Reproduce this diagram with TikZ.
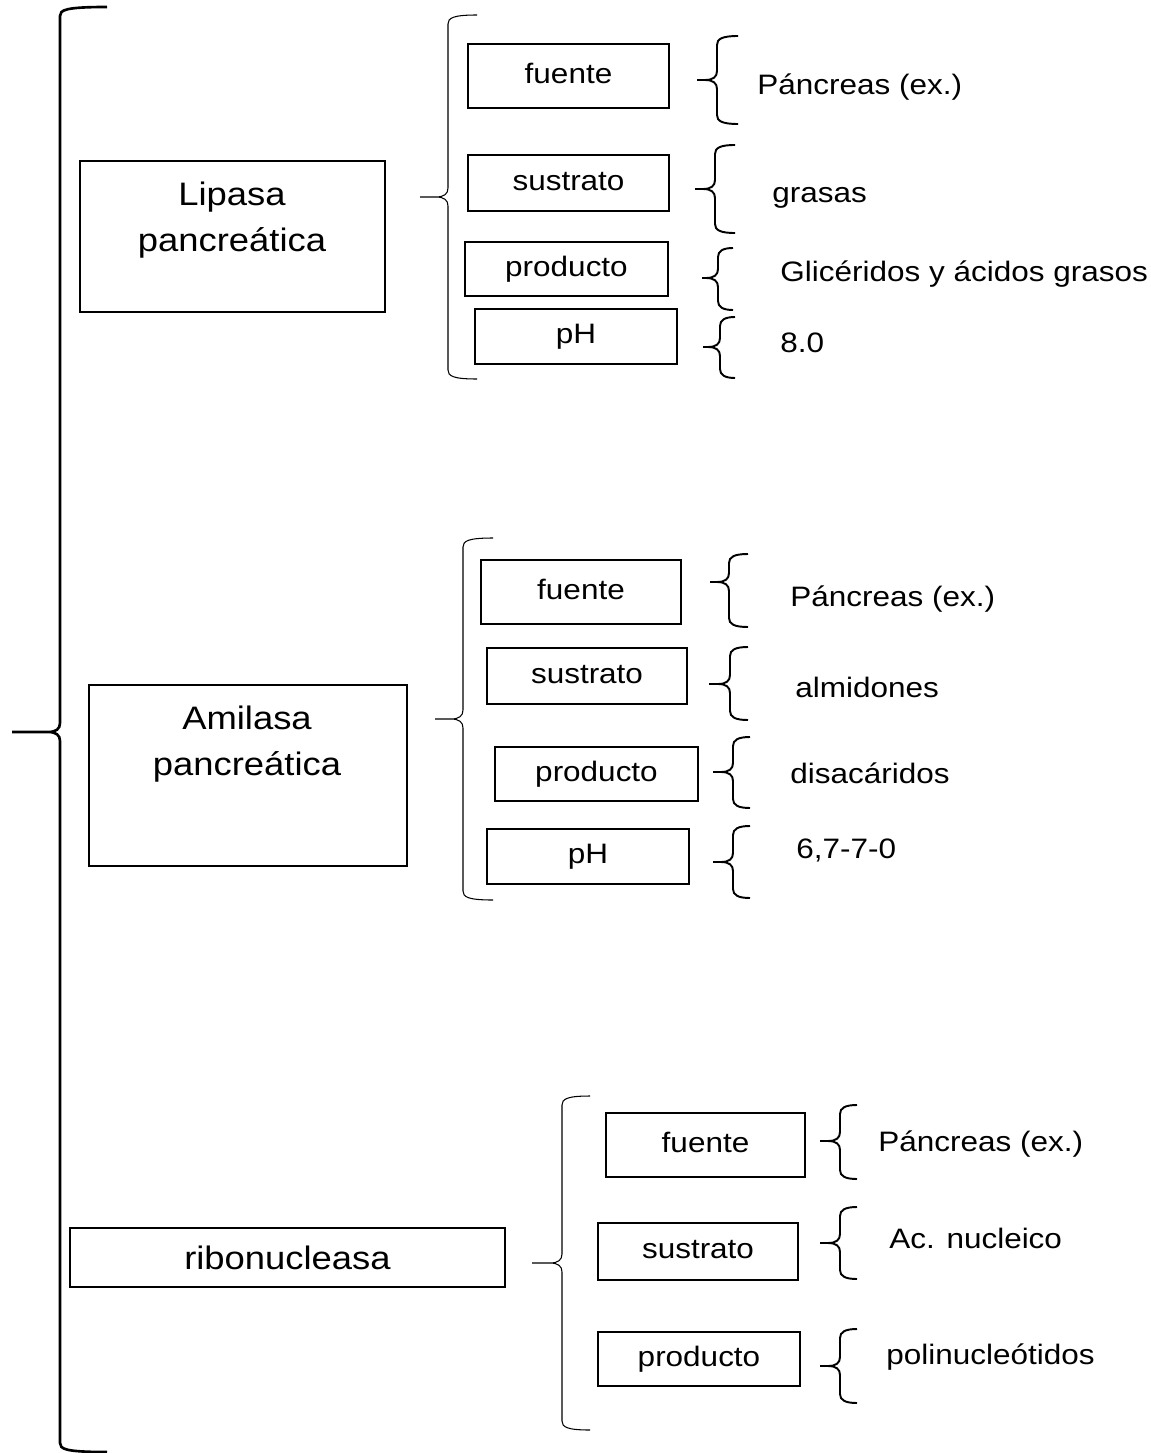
\documentclass[tikz,border=0pt]{standalone}
\usepackage{fontspec}
\setmainfont{Liberation Sans}[FakeStretch=1.12]

% brace: [style]{tip x}{spine x}{end x}{top y}{tip y}{bottom y}
\newcommand{\wordbrace}[7][]{%
  \draw[#1] ({#4},{#5}) .. controls ({#3+5},{#5}) and ({#3},{#5+3}) .. ({#3},{#5+9})
    -- ({#3},{#6-9}) .. controls ({#3},{#6-3}) and ({#3-4},{#6}) .. ({#3-12},{#6}) -- ({#2},{#6})
    ({#3-12},{#6}) .. controls ({#3-4},{#6}) and ({#3},{#6+3}) .. ({#3},{#6+9})
    -- ({#3},{#7-9}) .. controls ({#3},{#7-3}) and ({#3+5},{#7}) .. ({#4},{#7});}

\tikzset{
  boxline/.style={draw, line width=1.1pt, inner sep=0pt},
  boxsize/.style 2 args={minimum width=#1*0.02cm, minimum height=#2*0.02cm},
  smallbox/.style={boxline, font=\fontsize{16}{19}\selectfont, text height=12pt, text depth=4pt},
  bigbox/.style={boxline, font=\fontsize{18.5}{26}\selectfont, text height=14pt, text depth=0pt},
  bigtext/.style={align=center, inner sep=0pt, font=\fontsize{18.5}{26}\selectfont},
  sidetext/.style={anchor=base west, inner sep=0pt, font=\fontsize{16}{19}\selectfont},
  thinbrace/.style={line width=0.6pt},
  smallbrace/.style={line width=1.1pt},
  mainbrace/.style={line width=1.5pt}
}

\begin{document}
\begin{tikzpicture}[x=0.02cm, y=-0.02cm]
    \useasboundingbox (0,0) rectangle (1151,1453);

    %main brace:
    \wordbrace[mainbrace]{12}{60}{107}{7}{732}{1452}

    %lipasa:
    \node[bigbox, boxsize={305}{151}] (lipasa) at (232.5,236.5) {};
    \node[bigtext] (lipasa-txt) at (232,220) {Lipasa\\pancreática};
    \wordbrace[thinbrace]{420}{448}{477}{15}{197}{379}

    \node[smallbox, boxsize={201}{64}] (lip-fuente) at (568.5,76) {fuente};
    \node[smallbox, boxsize={201}{56}] (lip-sustrato) at (568.5,183) {sustrato};
    \node[smallbox, boxsize={203}{54}] (lip-producto) at (566.5,269) {producto};
    \node[smallbox, boxsize={202}{55}] (lip-ph) at (576,336.5) {pH};

    \wordbrace[smallbrace]{697}{717}{738}{36}{80}{124}
    \wordbrace[smallbrace]{695}{715}{735}{145}{189}{233}
    \wordbrace[smallbrace]{702}{718}{733}{248}{278}{310}
    \wordbrace[smallbrace]{703}{720}{735}{317}{347}{378}

    \node[sidetext] (lip-fuente-v) at (757,95) {Páncreas (ex.)};
    \node[sidetext] (lip-sustrato-v) at (772,203) {grasas};
    \node[sidetext] (lip-producto-v) at (780,281) {Glicéridos y ácidos grasos};
    \node[sidetext] (lip-ph-v) at (780,352) {8.0};

    %amilasa:
    \node[bigbox, boxsize={318}{181}] (amilasa) at (248,775.5) {};
    \node[bigtext] (amilasa-txt) at (247,744) {Amilasa\\pancreática};
    \wordbrace[thinbrace]{435}{463}{493}{538}{719}{900}

    \node[smallbox, boxsize={200}{64}] (ami-fuente) at (581,592) {fuente};
    \node[smallbox, boxsize={200}{56}] (ami-sustrato) at (587,676) {sustrato};
    \node[smallbox, boxsize={203}{54}] (ami-producto) at (596.5,774) {producto};
    \node[smallbox, boxsize={202}{55}] (ami-ph) at (588,856.5) {pH};

    \wordbrace[smallbrace]{710}{729}{748}{554}{582}{627}
    \wordbrace[smallbrace]{709}{730}{748}{647}{684}{720}
    \wordbrace[smallbrace]{713}{733}{750}{737}{772}{808}
    \wordbrace[smallbrace]{713}{733}{750}{826}{862}{898}

    \node[sidetext] (ami-fuente-v) at (790,606) {Páncreas (ex.)};
    \node[sidetext] (ami-sustrato-v) at (795,697) {almidones};
    \node[sidetext] (ami-producto-v) at (790,783) {disacáridos};
    \node[sidetext] (ami-ph-v) at (796,858) {6,7-7-0};

    %ribonucleasa:
    \node[bigbox, boxsize={435}{59}] (ribo) at (287.5,1257.5) {ribonucleasa};
    \wordbrace[thinbrace]{532}{562}{590}{1096}{1263}{1430}

    \node[smallbox, boxsize={199}{64}] (rib-fuente) at (705.5,1145) {fuente};
    \node[smallbox, boxsize={200}{57}] (rib-sustrato) at (698,1251.5) {sustrato};
    \node[smallbox, boxsize={202}{54}] (rib-producto) at (699,1359) {producto};

    \wordbrace[smallbrace]{820}{840}{857}{1105}{1141}{1179}
    \wordbrace[smallbrace]{820}{840}{857}{1207}{1243}{1279}
    \wordbrace[smallbrace]{820}{840}{857}{1329}{1366}{1403}

    \node[sidetext] (rib-fuente-v) at (878,1151) {Páncreas (ex.)};
    \node[sidetext] (rib-sustrato-v) at (889,1248) {Ac. nucleico};
    \node[sidetext] (rib-producto-v) at (886,1364) {polinucleótidos};

\end{tikzpicture}
\end{document}
